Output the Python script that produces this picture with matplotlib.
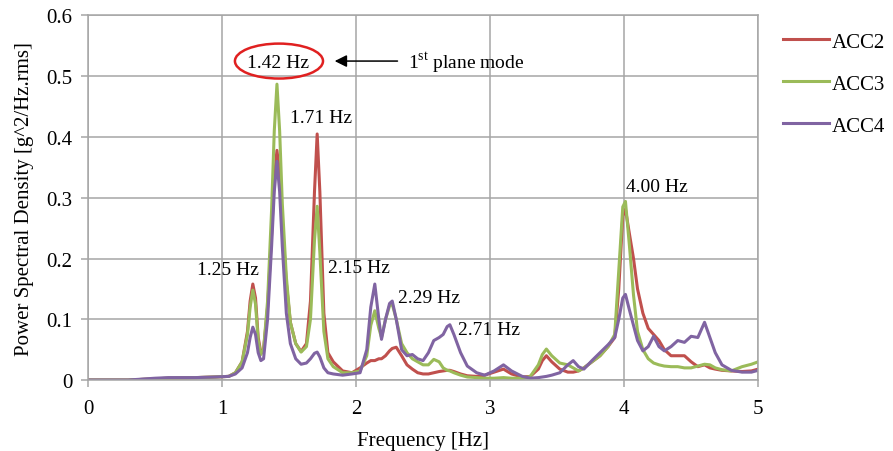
import matplotlib.pyplot as plt
from matplotlib.patches import Ellipse

# Frequency points [Hz] and PSD values [g^2/Hz.rms]
freq = [0, 0.3, 0.5, 0.6, 0.8, 0.95, 1.05, 1.1, 1.15, 1.19, 1.21, 1.23, 1.25, 1.27, 1.29,
        1.31, 1.34, 1.37, 1.39, 1.41, 1.43, 1.45, 1.48, 1.51, 1.55, 1.59, 1.63, 1.66, 1.69,
        1.71, 1.73, 1.76, 1.79, 1.83, 1.9, 1.97, 2.03, 2.08, 2.11, 2.14, 2.17, 2.19, 2.22,
        2.25, 2.27, 2.30, 2.34, 2.38, 2.42, 2.46, 2.50, 2.54, 2.58, 2.62, 2.65, 2.68, 2.70,
        2.73, 2.78, 2.83, 2.90, 2.96, 3.03, 3.10, 3.16, 3.24, 3.30, 3.36, 3.39, 3.42, 3.46,
        3.52, 3.58, 3.62, 3.66, 3.70, 3.76, 3.82, 3.88, 3.93, 3.96, 3.99, 4.01, 4.04, 4.07,
        4.10, 4.14, 4.18, 4.22, 4.26, 4.30, 4.35, 4.40, 4.45, 4.50, 4.55, 4.60, 4.64, 4.68,
        4.73, 4.80, 4.88, 4.95, 5.0]

acc2 = [0, 0, 0.002, 0.003, 0.004, 0.005, 0.006, 0.012, 0.03, 0.08, 0.13, 0.158, 0.135, 0.07, 0.045,
        0.05, 0.12, 0.24, 0.33, 0.378, 0.34, 0.26, 0.16, 0.095, 0.06, 0.047, 0.06, 0.13, 0.31,
        0.405, 0.31, 0.11, 0.045, 0.03, 0.015, 0.012, 0.02, 0.028, 0.032, 0.032, 0.035, 0.035, 0.04,
        0.048, 0.052, 0.054, 0.04, 0.025, 0.018, 0.012, 0.01, 0.01, 0.012, 0.014, 0.015, 0.016, 0.016,
        0.014, 0.01, 0.007, 0.006, 0.008, 0.013, 0.018, 0.01, 0.005, 0.006, 0.018, 0.032, 0.04, 0.03,
        0.018, 0.013, 0.013, 0.015, 0.02, 0.03, 0.04, 0.055, 0.07, 0.15, 0.27, 0.281, 0.24, 0.2,
        0.15, 0.11, 0.085, 0.075, 0.065, 0.05, 0.04, 0.04, 0.04, 0.03, 0.022, 0.025, 0.02, 0.018,
        0.016, 0.015, 0.014, 0.015, 0.018]

acc3 = [0, 0, 0.002, 0.003, 0.004, 0.005, 0.006, 0.012, 0.03, 0.075, 0.12, 0.148, 0.125, 0.065, 0.042,
        0.05, 0.13, 0.28, 0.41, 0.487, 0.41, 0.29, 0.17, 0.095, 0.06, 0.046, 0.055, 0.1, 0.23,
        0.286, 0.21, 0.08, 0.035, 0.022, 0.012, 0.012, 0.015, 0.04, 0.09, 0.114, 0.085, 0.07, 0.1,
        0.122, 0.125, 0.1, 0.06, 0.045, 0.035, 0.03, 0.025, 0.025, 0.034, 0.03, 0.02, 0.016, 0.015,
        0.012, 0.008, 0.005, 0.004, 0.003, 0.003, 0.004, 0.003, 0.003, 0.006, 0.025, 0.042, 0.051, 0.04,
        0.028, 0.025, 0.02, 0.015, 0.02, 0.03, 0.04, 0.055, 0.075, 0.18, 0.285, 0.294, 0.22, 0.14,
        0.08, 0.05, 0.035, 0.028, 0.025, 0.023, 0.022, 0.022, 0.02, 0.02, 0.023, 0.026, 0.025, 0.02,
        0.017, 0.015, 0.022, 0.026, 0.03]

acc4 = [0, 0, 0.003, 0.004, 0.004, 0.005, 0.006, 0.01, 0.02, 0.045, 0.07, 0.087, 0.075, 0.045, 0.032,
        0.035, 0.1, 0.22, 0.31, 0.36, 0.31, 0.22, 0.11, 0.06, 0.035, 0.026, 0.028, 0.035, 0.044,
        0.046, 0.038, 0.02, 0.012, 0.01, 0.008, 0.01, 0.012, 0.05, 0.12, 0.158, 0.1, 0.067, 0.1,
        0.126, 0.13, 0.1, 0.05, 0.04, 0.042, 0.035, 0.032, 0.045, 0.065, 0.07, 0.075, 0.088, 0.091,
        0.075, 0.045, 0.023, 0.012, 0.008, 0.015, 0.025, 0.015, 0.006, 0.003, 0.004, 0.005, 0.006, 0.008,
        0.012, 0.025, 0.032, 0.022, 0.018, 0.032, 0.045, 0.058, 0.07, 0.1, 0.135, 0.141, 0.115, 0.09,
        0.065, 0.048, 0.055, 0.072, 0.055, 0.048, 0.055, 0.065, 0.062, 0.072, 0.07, 0.095, 0.07, 0.045,
        0.025, 0.016, 0.013, 0.013, 0.016]

series = {'ACC2': (acc2, '#C0504D'), 'ACC3': (acc3, '#9BBB59'), 'ACC4': (acc4, '#8064A2')}

plt.rcParams['font.family'] = ['Liberation Serif', 'DejaVu Serif']
plt.rcParams['mathtext.fontset'] = 'custom'
plt.rcParams['mathtext.rm'] = 'Liberation Serif'

fig = plt.figure(figsize=(8.93, 4.52), dpi=100)
ax = fig.add_axes([0.0985, 0.157, 0.7505, 0.8065])

for name, (vals, color) in series.items():
    ax.plot(freq, vals, color=color, lw=2.2, label=name)

ax.set_xlim(0, 5)
ax.set_ylim(0, 0.6)
ax.set_xticks([0, 1, 2, 3, 4, 5])
ax.set_yticks([0, 0.1, 0.2, 0.3, 0.4, 0.5, 0.6])
ax.set_yticklabels(['0', '0.1', '0.2', '0.3', '0.4', '0.5', '0.6'])
ax.grid(True, color='#a6a6a6', lw=1.1)
ax.set_axisbelow(True)
for s in ax.spines.values():
    s.set_color('#a6a6a6')
    s.set_linewidth(1.1)
ax.tick_params(labelsize=15, color='#a6a6a6', length=5, width=1.1, pad=6)
ax.tick_params(axis='x', pad=9)
ax.set_xlabel('Frequency [Hz]', fontsize=15, labelpad=9)
ax.set_ylabel('Power Spectral Density [g^2/Hz.rms]', fontsize=15, labelpad=9)

# peak labels
fs = 14
ax.text(1.418, 0.522, '1.42 Hz', fontsize=fs, ha='center', va='center')
ax.add_patch(Ellipse((1.425, 0.525), 0.657, 0.0575, fill=False, ec='#e02020', lw=1.8))
ax.annotate('', xy=(1.82, 0.525), xytext=(2.33, 0.525),
            arrowprops=dict(arrowstyle='-|>', color='black', lw=1.1, mutation_scale=18))
ax.text(2.39, 0.525, r'1$^{\mathrm{st}}$ plane mode', fontsize=fs, ha='left', va='center')
ax.text(1.507, 0.432, '1.71 Hz', fontsize=fs, ha='left', va='center')
ax.text(0.813, 0.182, '1.25 Hz', fontsize=fs, ha='left', va='center')
ax.text(1.79, 0.186, '2.15 Hz', fontsize=fs, ha='left', va='center')
ax.text(2.313, 0.136, '2.29 Hz', fontsize=fs, ha='left', va='center')
ax.text(2.76, 0.084, '2.71 Hz', fontsize=fs, ha='left', va='center')
ax.text(4.015, 0.319, '4.00 Hz', fontsize=fs, ha='left', va='center')

fig.legend(loc='upper left', bbox_to_anchor=(0.868, 0.945), frameon=False, fontsize=15,
           handlelength=2.2, handletextpad=0.1, labelspacing=1.07, borderaxespad=0)

fig.savefig('out.png', dpi=100)
